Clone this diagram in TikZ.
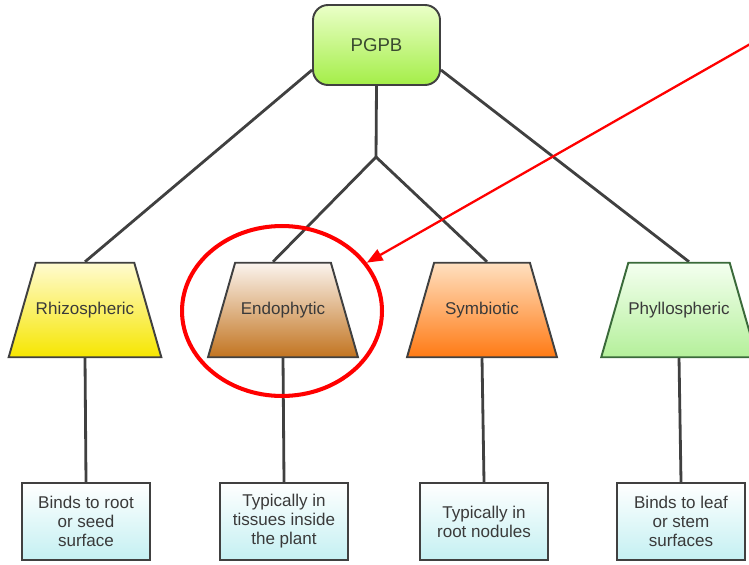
\documentclass[tikz,border=0pt]{standalone}
\usepackage{fontspec}
\setmainfont{Liberation Sans}
\usepackage{tikz}
\usetikzlibrary{arrows.meta,backgrounds,positioning,shapes.geometric,calc}
\definecolor{edge}{HTML}{404040}
\definecolor{rootlo}{HTML}{A4EE48}
\definecolor{roothi}{HTML}{EAFFC8}
\definecolor{roottext}{HTML}{3A4A30}
\definecolor{rhizohi}{HTML}{FFFBD0}
\definecolor{rhizolo}{HTML}{F6E600}
\definecolor{endohi}{HTML}{FBF4EE}
\definecolor{endolo}{HTML}{C27420}
\definecolor{symbhi}{HTML}{FFE0C0}
\definecolor{symblo}{HTML}{FF7A14}
\definecolor{phyllohi}{HTML}{F4FFF0}
\definecolor{phyllolo}{HTML}{B4F09A}
\definecolor{phylloedge}{HTML}{3A6A3A}
\definecolor{cyanlo}{HTML}{C4F0F2}
\definecolor{textgray}{HTML}{3A3A3A}
\tikzset{
  root/.style={rectangle, rounded corners=0.3cm, draw=edge, line width=1.1pt, minimum width=2.54cm, minimum height=1.6cm, top color=roothi, bottom color=rootlo, text=roottext, font=\fontsize{10.6}{12}\selectfont},
  tier/.style={trapezium, trapezium left angle=74, trapezium right angle=74, trapezium stretches body, minimum width=3cm, text height=7pt, text depth=2pt, inner xsep=0pt, inner ysep=22.4pt, draw=edge, line width=1.1pt, font=\fontsize{9.7}{11}\selectfont},
  habitat/.style={rectangle, draw=edge, line width=1.1pt, minimum width=2.56cm, minimum height=1.54cm, top color=white, bottom color=cyanlo, align=center, text=textgray, font=\fontsize{9.7}{10.8}\selectfont, inner sep=0pt},
  link/.style={draw=edge, line width=1.6pt}
}
\begin{document}
\begin{tikzpicture}[x=0.02cm, y=-0.02cm]
\useasboundingbox (0,0) rectangle (749,564);

\node[root] (pgpb) at (376.5,45) {PGPB};

%bacteria types
\node[tier, top color=rhizohi, bottom color=rhizolo, text=textgray] (rhizo) at (85,310) {Rhizospheric};
\node[tier, top color=endohi, bottom color=endolo, text=textgray] (endo) at (283,310) {Endophytic};
\node[tier, top color=symbhi, bottom color=symblo, text=textgray] (symb) at (482,310) {Symbiotic};
\node[tier, draw=phylloedge, top color=phyllohi, bottom color=phyllolo, text=textgray] (phyllo) at (679,310) {Phyllospheric};

%habitats
\node[habitat] (h1) at (86,521.5) {Binds to root\\or seed\\surface};
\node[habitat] (h2) at (284,521.5) {Typically in\\tissues inside\\the plant};
\node[habitat] (h3) at (484,521.5) {Typically in\\root nodules};
\node[habitat] (h4) at (681,521.5) {Binds to leaf\\or stem\\surfaces};

\coordinate (fork) at (376,157);
\begin{scope}[on background layer]
\draw[link] ([yshift=-0.5cm]pgpb.west) -- (rhizo.north);
\draw[link] ([yshift=-0.5cm]pgpb.east) -- ([xshift=0.2cm]phyllo.north);
\draw[link] (pgpb.south) -- (fork);
\draw[link] (fork) -- ([xshift=-0.2cm]endo.north);
\draw[link] (fork) -- ([xshift=0.1cm]symb.north);
\draw[link] (rhizo.south) -- (h1.north);
\draw[link] (endo.south) -- (h2.north);
\draw[link] (symb.south) -- (h3.north);
\draw[link] (phyllo.south) -- (h4.north);
\end{scope}

%highlight
\node[ellipse, draw=red, line width=2.3pt, minimum width=4cm, minimum height=3.4cm] (ring) at (282,311) {};
\coordinate (src) at (752,43);
\draw[red, line width=1.3pt, -{Triangle[length=9pt,width=7pt]}] (src) -- (ring);
\end{tikzpicture}
\end{document}
